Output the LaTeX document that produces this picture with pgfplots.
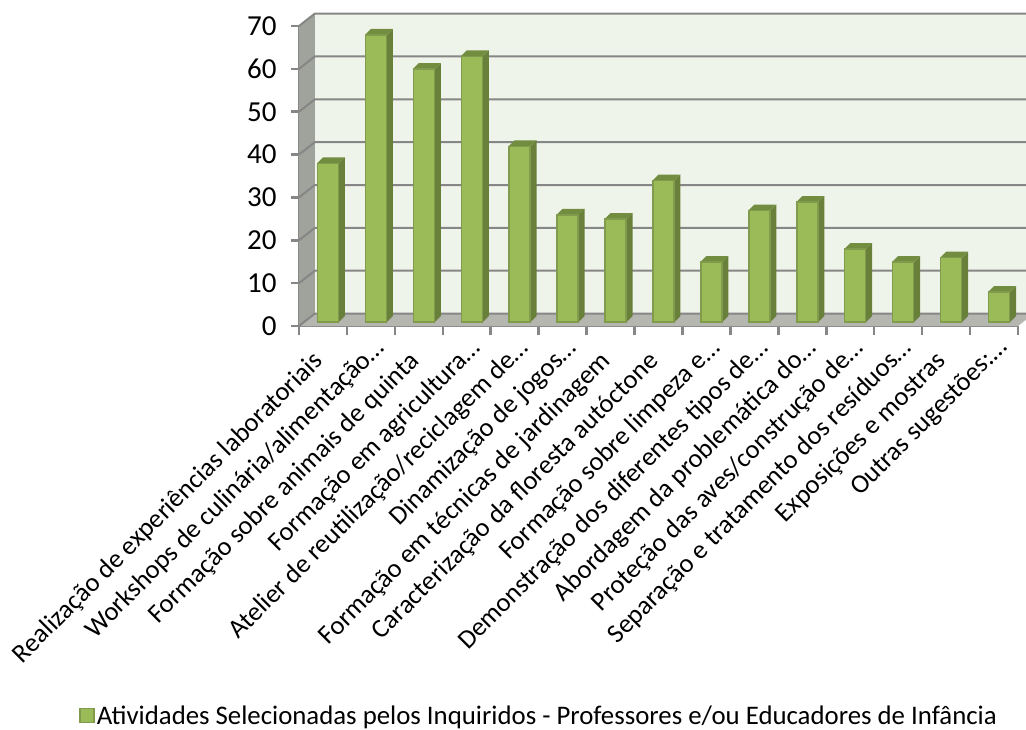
\documentclass[border=0pt]{standalone}
\usepackage{fontspec}
\setmainfont{Carlito}
\usepackage{pgfplots}
\usepackage{pgfplotstable}
\pgfplotsset{compat=1.18}

\definecolor{barfront}{HTML}{9BBB59}
\definecolor{baredge}{HTML}{7F9B4B}
\definecolor{barside}{HTML}{68803A}
\definecolor{bartop}{HTML}{728C40}
\definecolor{backwall}{HTML}{EFF4EA}
\definecolor{sidewall}{HTML}{A0A29C}
\definecolor{floorc}{HTML}{B4B6AF}
\definecolor{gridc}{HTML}{868686}

\pgfplotstableread{
x y
0 37
1 67
2 59
3 62
4 41
5 25
6 24
7 33
8 14
9 26
10 28
11 17
12 14
13 15
14 7
}\barsdata

% wall grid line: front height, height on the back wall
\newcommand\wallline[2]{\addplot[gridc,line width=2pt] coordinates {(-0.5,#1)(-0.17,#2)(14.83,#2)};}
% cut-off labels reach further up than the whole ones
\newcommand\cutoff{…\kern-19pt}

\begin{document}
\begin{tikzpicture}[x=1pt,y=1pt]
\useasboundingbox (0,0) rectangle (1026,729);

% walls, floor, ticks and labels
\begin{axis}[
    at={(299pt,403pt)},anchor=south west,
    scale only axis,width=719pt,height=300pt,
    xmin=-0.5,xmax=14.5,ymin=0,ymax=70,
    clip=false,
    axis x line*=bottom,axis y line*=left,
    axis line style={gridc,line width=2.5pt},
    tick align=outside,
    major tick length=8pt,minor tick length=9pt,
    ytick={0,10,...,70},
    xtick={0,...,14},
    minor xtick={-0.5,0.5,...,14.5},
    major x tick style={draw=none},
    minor x tick style={gridc,line width=2.5pt},
    y tick style={gridc,line width=2.5pt},
    xticklabels={
      {Realização de experiências laboratoriais},
      {Workshops de culinária/alimentação\cutoff},
      {Formação sobre animais de quinta},
      {Formação em agricultura\cutoff},
      {Atelier de reutilização/reciclagem de\cutoff},
      {Dinamização de jogos\cutoff},
      {Formação em técnicas de jardinagem},
      {Caracterização da floresta autóctone},
      {Formação sobre limpeza e\cutoff},
      {Demonstração dos diferentes tipos de\cutoff},
      {Abordagem da problemática do\cutoff},
      {Proteção das aves/construção de\cutoff},
      {Separação e tratamento dos resíduos\cutoff},
      {Exposições e mostras},
      {Outras sugestões:\cutoff}},
    x tick label style={font=\fontsize{26.5}{28}\selectfont,rotate=45,anchor=north east,inner sep=1pt,xshift=-18.1pt,yshift=-1.5pt},
    y tick label style={font=\fontsize{29}{30}\selectfont,xshift=-11pt},
    /pgf/number format/assume math mode=true,
]
\addplot[fill=backwall,draw=none] coordinates {(-0.17,2.9)(14.83,2.9)(14.83,72.9)(-0.17,72.9)};
\addplot[fill=sidewall,draw=none] coordinates {(-0.5,0)(-0.17,2.9)(-0.17,72.9)(-0.5,70)};
\addplot[fill=floorc,draw=none] coordinates {(-0.5,0)(14.5,0)(14.83,2.9)(-0.17,2.9)};
\wallline{0}{2.9}
\wallline{10}{12.9}
\wallline{20}{22.9}
\wallline{30}{32.9}
\wallline{40}{42.9}
\wallline{50}{52.9}
\wallline{60}{62.9}
\wallline{70}{72.9}
\end{axis}

% bars, sitting a little behind the front of the floor
\begin{axis}[
    at={(304pt,407pt)},anchor=south west,
    scale only axis,width=719pt,height=300pt,
    xmin=-0.5,xmax=14.5,ymin=0,ymax=70,
    clip=false,
    hide axis,
    legend style={draw=none,fill=none,at={(0.327,-1.312)},anchor=center,
      font=\fontsize{26.8}{28}\selectfont,inner sep=0pt},
    legend image code/.code={\draw[fill=barfront,draw=baredge,line width=1.5pt] (-10pt,-7pt) rectangle (4pt,7pt);},
]
\pgfplotsinvokeforeach{0,...,14}{
  \pgfplotstablegetelem{#1}{y}\of\barsdata
  \pgfmathsetmacro\barv{\pgfplotsretval}
  \pgfmathsetmacro\bartopv{\barv+1.4}
  \pgfmathsetmacro\xa{#1-0.2295}
  \pgfmathsetmacro\xb{#1-0.1045}
  \pgfmathsetmacro\xc{#1+0.2295}
  \pgfmathsetmacro\xd{#1+0.3545}
  \edef\temp{\noexpand\addplot[fill=barside,draw=none,forget plot] coordinates {(\xc,0)(\xd,1.4)(\xd,\bartopv)(\xc,\barv)};
    \noexpand\addplot[fill=bartop,draw=none,forget plot] coordinates {(\xa,\barv)(\xb,\bartopv)(\xd,\bartopv)(\xc,\barv)};}
  \temp
}
\addplot[ybar,bar width=21pt,fill=barfront,draw=baredge,line width=1.5pt] table[x=x,y=y] {\barsdata};
\addlegendentry{Atividades Selecionadas pelos Inquiridos - Professores e/ou Educadores de Infância}
\end{axis}
\end{tikzpicture}
\end{document}
